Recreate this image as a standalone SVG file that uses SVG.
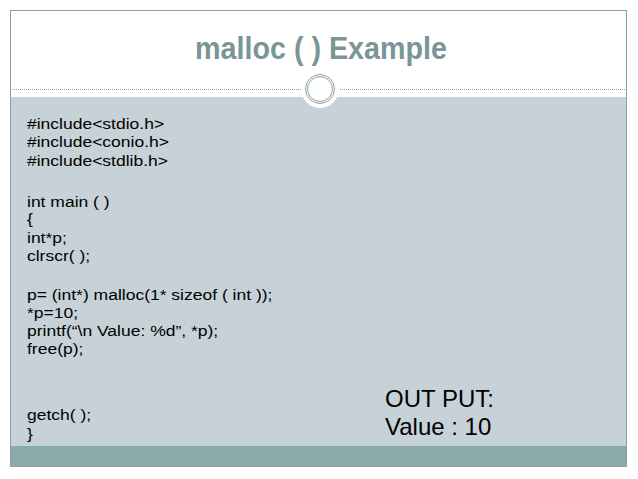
<svg xmlns="http://www.w3.org/2000/svg" width="638" height="479" viewBox="0 0 638 479">
<style>
.code{font-family:"Liberation Sans",Arial,sans-serif;font-size:17.5px;fill:#000}
.out{font-family:"Liberation Sans",Arial,sans-serif;font-size:24px;fill:#000}
</style>
<rect width="638" height="479" fill="#fff"/>
<rect x="10" y="97" width="617" height="349" fill="#c6d1d8"/>
<rect x="10" y="446" width="617" height="21" fill="#8aabac"/>
<rect x="10.5" y="10.5" width="616" height="456" fill="none" stroke="#8a9ea4" stroke-width="1"/>
<line x1="10" y1="89.5" x2="627" y2="89.5" stroke="#999" stroke-width="1" stroke-dasharray="1,1"/>
<g id="title">
<text x="321" y="59" text-anchor="middle" font-family="'Liberation Sans',Arial,sans-serif" font-weight="bold" font-size="32" fill="#7a9596" textLength="252" lengthAdjust="spacingAndGlyphs">malloc ( ) Example</text>
</g>
<g id="ring">
<circle cx="320" cy="89" r="19" fill="#fff"/>
<circle cx="320" cy="89" r="14.5" fill="none" stroke="#8a9ea4" stroke-width="1"/>
<circle cx="320" cy="89" r="12.5" fill="none" stroke="#8a9ea4" stroke-width="1"/>
</g>
<g id="code" transform="translate(27,0) scale(1,0.85) translate(-27,0)">
<text class="code" x="27" y="152">#include&lt;stdio.h&gt;</text>
<text class="code" x="27" y="173">#include&lt;conio.h&gt;</text>
<text class="code" x="27" y="195">#include&lt;stdlib.h&gt;</text>
<text class="code" x="27" y="243">int main ( )</text>
<text class="code" x="27" y="264">{</text>
<text class="code" x="27" y="286">int*p;</text>
<text class="code" x="27" y="307">clrscr( );</text>
<text class="code" x="27" y="353">p= (int*) malloc(1* sizeof ( int ));</text>
<text class="code" x="27" y="374">*p=10;</text>
<text class="code" x="27" y="395">printf(“\n Value: %d”, *p);</text>
<text class="code" x="27" y="417">free(p);</text>
<text class="code" x="27" y="494">getch( );</text>
<text class="code" x="27" y="516">}</text>
</g>
<g id="output">
<text class="out" x="385" y="407">OUT PUT:</text>
<text class="out" x="385" y="435">Value : 10</text>
</g>
</svg>
